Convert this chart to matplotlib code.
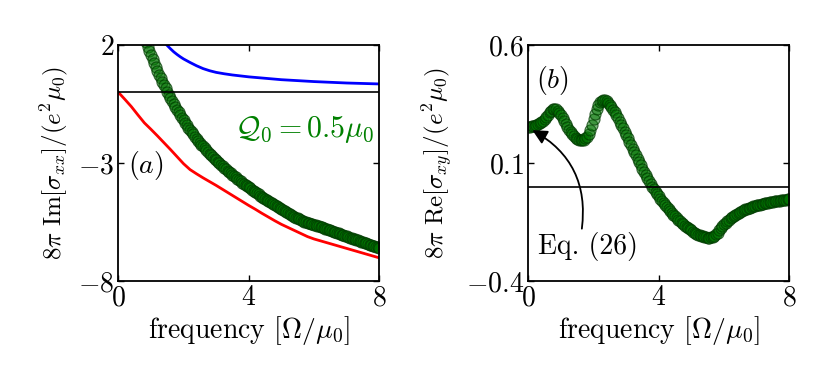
import numpy as np
import matplotlib
matplotlib.use("Agg")
import matplotlib.pyplot as plt

plt.rcParams["font.family"] = "serif"
plt.rcParams["font.serif"] = ["cmr10"]
plt.rcParams["mathtext.fontset"] = "cm"
plt.rcParams["axes.formatter.use_mathtext"] = True

# panel (a): 8pi Im[sigma_xx]
freq_blue = [1.4, 1.5, 1.6, 1.7, 1.8, 1.9, 2.0, 2.2, 2.4, 2.6, 2.8, 3.0, 3.25, 3.5,
             4.0, 4.5, 5.0, 5.5, 6.0, 6.5, 7.0, 7.5, 8.0]
im_blue = [2.13, 1.98, 1.84, 1.71, 1.60, 1.50, 1.41, 1.26, 1.12, 1.00, 0.91, 0.84, 0.78, 0.73,
           0.65, 0.59, 0.53, 0.49, 0.45, 0.42, 0.39, 0.37, 0.35]

freq_red = [0.0, 0.2, 0.4, 0.6, 0.8, 1.0, 1.2, 1.4, 1.6, 1.8, 2.0, 2.2, 2.4, 2.6, 2.8, 3.0,
            3.2, 3.4, 3.6, 3.8, 4.0, 4.2, 4.4, 4.6, 4.8, 5.0, 5.2, 5.4, 5.6, 5.8, 6.0,
            6.2, 6.4, 6.6, 6.8, 7.0, 7.2, 7.4, 7.6, 7.8, 8.0]
im_red = [0.0, -0.30, -0.61, -0.96, -1.30, -1.57, -1.85, -2.14, -2.43, -2.73, -3.03, -3.28,
          -3.46, -3.63, -3.79, -3.95, -4.12, -4.29, -4.46, -4.63, -4.80, -4.96, -5.13, -5.29,
          -5.45, -5.60, -5.73, -5.86, -5.99, -6.12, -6.22, -6.30, -6.38, -6.46, -6.54, -6.62,
          -6.70, -6.78, -6.86, -6.94, -7.02]

# green circles sampled every 0.05 in frequency
freq_green_a = np.linspace(0.8, 8.0, 145)
im_green = [2.30, 2.11, 1.92, 1.74, 1.56, 1.39, 1.22, 1.06, 0.90, 0.75,
            0.60, 0.45, 0.30, 0.16, 0.02, -0.12, -0.25, -0.38, -0.50, -0.62,
            -0.74, -0.86, -0.97, -1.08, -1.19, -1.30, -1.40, -1.50, -1.60, -1.70,
            -1.79, -1.88, -1.97, -2.06, -2.14, -2.22, -2.30, -2.38, -2.45, -2.53,
            -2.60, -2.67, -2.74, -2.81, -2.88, -2.95, -3.01, -3.08, -3.14, -3.20,
            -3.26, -3.32, -3.38, -3.44, -3.50, -3.56, -3.61, -3.67, -3.72, -3.78,
            -3.83, -3.88, -3.93, -3.98, -4.03, -4.08, -4.13, -4.18, -4.23, -4.28,
            -4.33, -4.38, -4.42, -4.47, -4.51, -4.56, -4.60, -4.65, -4.69, -4.74,
            -4.78, -4.83, -4.87, -4.91, -4.95, -4.99, -5.03, -5.07, -5.11, -5.15,
            -5.19, -5.23, -5.27, -5.31, -5.35, -5.39, -5.42, -5.45, -5.48, -5.51,
            -5.53, -5.55, -5.57, -5.59, -5.61, -5.63, -5.66, -5.68, -5.71, -5.73,
            -5.76, -5.78, -5.81, -5.83, -5.86, -5.88, -5.91, -5.93, -5.96, -5.98,
            -6.01, -6.03, -6.06, -6.08, -6.11, -6.13, -6.16, -6.18, -6.21, -6.23,
            -6.26, -6.28, -6.31, -6.33, -6.36, -6.38, -6.41, -6.43, -6.46, -6.48,
            -6.51, -6.53, -6.56, -6.58, -6.61]

# panel (b): 8pi Re[sigma_xy], sampled every 0.05
freq_green_b = np.linspace(0.0, 8.0, 161)
re_green = [0.254, 0.254, 0.255, 0.256, 0.258, 0.261, 0.264, 0.268, 0.273, 0.280,
            0.287, 0.296, 0.305, 0.314, 0.322, 0.328, 0.330, 0.328, 0.322, 0.313,
            0.302, 0.290, 0.277, 0.264, 0.252, 0.241, 0.230, 0.221, 0.213, 0.207,
            0.202, 0.199, 0.197, 0.197, 0.199, 0.204, 0.212, 0.224, 0.240, 0.261,
            0.285, 0.309, 0.330, 0.346, 0.358, 0.364, 0.367, 0.366, 0.362, 0.355,
            0.347, 0.337, 0.326, 0.314, 0.302, 0.289, 0.275, 0.261, 0.247, 0.233,
            0.218, 0.204, 0.190, 0.175, 0.161, 0.146, 0.132, 0.118, 0.104, 0.090,
            0.076, 0.062, 0.049, 0.036, 0.023, 0.010, -0.002, -0.012, -0.022, -0.032,
            -0.041, -0.051, -0.060, -0.069, -0.078, -0.087, -0.095, -0.103, -0.111, -0.119,
            -0.126, -0.133, -0.140, -0.147, -0.153, -0.159, -0.165, -0.171, -0.176, -0.181,
            -0.186, -0.191, -0.195, -0.199, -0.203, -0.206, -0.209, -0.211, -0.213, -0.215,
            -0.216, -0.216, -0.215, -0.212, -0.208, -0.202, -0.195, -0.186, -0.177, -0.168,
            -0.160, -0.153, -0.146, -0.140, -0.134, -0.129, -0.124, -0.119, -0.115, -0.111,
            -0.107, -0.103, -0.100, -0.097, -0.094, -0.091, -0.089, -0.086, -0.084, -0.082,
            -0.080, -0.078, -0.076, -0.074, -0.073, -0.071, -0.070, -0.068, -0.067, -0.065,
            -0.064, -0.063, -0.062, -0.060, -0.059, -0.058, -0.057, -0.056, -0.055, -0.054,
            -0.053]

fig = plt.figure(figsize=(8.3, 3.88), dpi=100)
ax1 = fig.add_axes([0.1425, 0.2758, 0.3145, 0.6082])
ax2 = fig.add_axes([0.6365, 0.2758, 0.3145, 0.6082])

mk = dict(ls="none", marker="o", ms=8, mfc=(0.0, 0.45, 0.0, 0.5),
          mec=(0.0, 0.22, 0.0, 0.7), mew=0.8)

# (a)
ax1.plot(freq_blue, im_blue, color="blue", lw=2)
ax1.plot(freq_red, im_red, color="red", lw=2)
ax1.plot(freq_green_a, im_green, **mk)
ax1.axhline(0, color="black", lw=1.2, zorder=5)
ax1.text(0.3, -3.1, "$(a)$", fontsize=20, va="center")
ax1.text(7.85, -1.55, r"$\mathcal{Q}_0=0.5\mu_0$", fontsize=21.5, color="green",
         ha="right", va="center")
ax1.set_xlim(0, 8)
ax1.set_ylim(-8, 2)
ax1.set_yticks([-8, -3, 2])
ax1.set_ylabel(r"$8\pi\ \mathrm{Im}[\sigma_{xx}]/(e^2\mu_0)$", fontsize=18, labelpad=6)

# (b)
ax2.plot(freq_green_b, re_green, **mk)
ax2.axhline(0, color="black", lw=1.2, zorder=5)
ax2.text(0.25, 0.45, "$(b)$", fontsize=20, va="center")
ax2.annotate("", xy=(0.05, 0.245), xytext=(1.63, -0.19),
             arrowprops=dict(arrowstyle="-|>", color="black", lw=1.3,
                             mutation_scale=22, connectionstyle="arc3,rad=0.35"),
             zorder=6)
ax2.text(1.84, -0.255, "Eq. (26)", fontsize=20, ha="center", va="center")
ax2.set_xlim(0, 8)
ax2.set_ylim(-0.4, 0.6)
ax2.set_yticks([-0.4, 0.1, 0.6])
ax2.set_ylabel(r"$8\pi\ \mathrm{Re}[\sigma_{xy}]/(e^2\mu_0)$", fontsize=18, labelpad=8)

for ax in (ax1, ax2):
    ax.set_xticks([0, 4, 8])
    ax.set_xlabel(r"frequency $[\Omega/\mu_0]$", fontsize=20, labelpad=2)
    ax.tick_params(direction="in", top=True, right=True, length=4, width=1,
                   labelsize=20, pad=3)
    for s in ax.spines.values():
        s.set_linewidth(1.3)

fig.savefig("out.png", dpi=100)
